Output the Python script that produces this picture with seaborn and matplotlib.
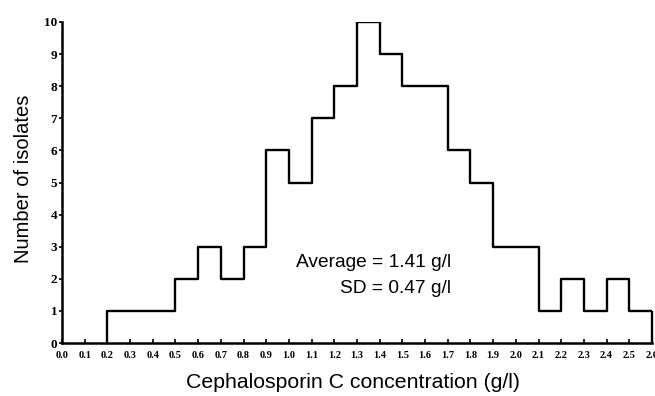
import numpy as np
import pandas as pd
import matplotlib.pyplot as plt
import seaborn as sns

# ----------------------------------
# Data
# ----------------------------------

bin_start = [0.2, 0.3, 0.4, 0.5, 0.6, 0.7, 0.8, 0.9, 1.0, 1.1, 1.2, 1.3,
             1.4, 1.5, 1.6, 1.7, 1.8, 1.9, 2.0, 2.1, 2.2, 2.3, 2.4, 2.5]
isolates = [1, 1, 1, 2, 3, 2, 3, 6, 5, 7, 8, 10,
            9, 8, 8, 6, 5, 3, 3, 1, 2, 1, 2, 1]
bin_width = 0.1

x_ticks = [round(i * 0.1, 1) for i in range(27)]
y_ticks = list(range(11))

df = pd.DataFrame({
    "conc": np.array(bin_start) + bin_width / 2,
    "count": isolates
})
edges = list(bin_start) + [bin_start[-1] + bin_width]

# ----------------------------------
# Plot
# ----------------------------------

sns.set_style("ticks")
plt.rcParams["font.family"] = ["Liberation Sans", "DejaVu Sans"]

fig = plt.figure(figsize=(6.55, 3.96), dpi=100)
ax = fig.add_axes([62 / 655, 53 / 396, 590 / 655, 321 / 396])

sns.histplot(
    data=df,
    x="conc",
    weights="count",
    bins=edges,
    element="step",
    fill=False,
    color="black",
    linewidth=1.7,
    ax=ax
)

# closing verticals of the outline at the first and last bin edge
ax.vlines([edges[0], edges[-1]], 0, [isolates[0], isolates[-1]],
          color="black", linewidth=1.7, clip_on=False)

ax.set_xlim(0, 2.6)
ax.set_ylim(0, 10)

sns.despine(ax=ax)
for side in ["left", "bottom"]:
    ax.spines[side].set_linewidth(1.8)
    ax.spines[side].set_color("black")

ax.set_xticks(x_ticks)
ax.set_xticklabels([f"{t:.1f}" for t in x_ticks],
                   fontfamily="Liberation Serif", fontweight="bold",
                   fontsize=7.5)
ax.set_yticks(y_ticks)
ax.set_yticklabels([str(t) for t in y_ticks],
                   fontfamily="Liberation Serif", fontweight="bold",
                   fontsize=9.5)

ax.tick_params(axis="x", direction="in", length=3, width=1.2, pad=6,
               colors="black")
ax.tick_params(axis="y", direction="out", length=2.5, width=1.2, pad=1,
               colors="black")

ax.set_xlabel("Cephalosporin C concentration (g/l)", fontsize=15.3,
              color="black", va="top")
ax.xaxis.set_label_coords(0.493, -0.093)
ax.set_ylabel("Number of isolates", fontsize=14.5, color="black",
              va="center")
ax.yaxis.set_label_coords(-0.065, 0.51)

ax.text(1.713, 2.37, "Average = 1.41 g/l", ha="right", va="baseline",
        fontsize=13.8, color="black")
ax.text(1.713, 1.56, "SD = 0.47 g/l", ha="right", va="baseline",
        fontsize=13.8, color="black")

plt.savefig("out.png", dpi=100)
plt.close()
